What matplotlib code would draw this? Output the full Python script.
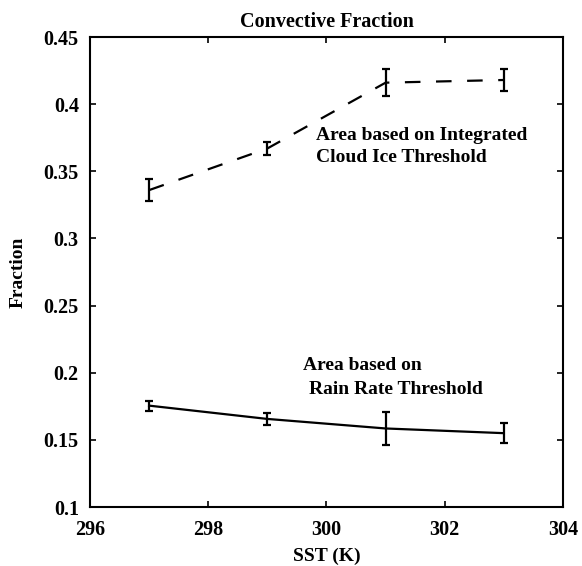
import numpy as np
import matplotlib
matplotlib.use("Agg")
import matplotlib.pyplot as plt

plt.rcParams["font.family"] = ["Liberation Serif", "DejaVu Serif"]
plt.rcParams["font.weight"] = "bold"
plt.rcParams["axes.titleweight"] = "bold"
plt.rcParams["axes.labelweight"] = "bold"

# SST values (K)
sst = [297, 299, 301, 303]

# Convective fraction from integrated cloud ice threshold
ice_frac = [0.336, 0.367, 0.416, 0.418]
ice_err = [0.008, 0.005, 0.010, 0.008]

# Convective fraction from rain rate threshold
rain_frac = [0.1755, 0.1656, 0.1585, 0.1550]
rain_err = [0.0037, 0.0047, 0.012, 0.0073]

xticks = [296, 298, 300, 302, 304]
yticks = [0.1, 0.15, 0.2, 0.25, 0.3, 0.35, 0.4, 0.45]
yticklabels = ["0.1", "0.15", "0.2", "0.25", "0.3", "0.35", "0.4", "0.45"]

fig = plt.figure(figsize=(5.82, 5.66), dpi=100)
ax = fig.add_axes([0.1546, 0.1042, 0.8127, 0.8304])

ax.errorbar(sst, ice_frac, yerr=ice_err, color="black", lw=1.6,
            linestyle=(0, (7, 7)), capsize=3, elinewidth=1.6, capthick=1.6)
ax.errorbar(sst, rain_frac, yerr=rain_err, color="black", lw=1.6,
            linestyle="-", capsize=3, elinewidth=1.6, capthick=1.6)

ax.text(299.82, 0.377, "Area based on Integrated", fontsize=14, va="center")
ax.text(299.82, 0.360, "Cloud Ice Threshold", fontsize=14, va="center")
ax.text(299.6, 0.2055, "Area based on", fontsize=14, va="center")
ax.text(299.7, 0.1875, "Rain Rate Threshold", fontsize=14, va="center")

ax.set_xlim(296, 304)
ax.set_ylim(0.1, 0.45)
ax.set_xticks(xticks)
ax.set_yticks(yticks)
ax.set_yticklabels(yticklabels)
ax.tick_params(direction="in", top=True, right=True, length=4, width=1.2,
               labelsize=14.5)
ax.tick_params(axis="x", pad=9)
ax.tick_params(axis="y", pad=8)
for s in ax.spines.values():
    s.set_linewidth(1.5)

ax.set_title("Convective Fraction", fontsize=14.5, pad=7)
ax.set_xlabel("SST (K)", fontsize=14, labelpad=6)
ax.set_ylabel("Fraction", fontsize=14, labelpad=12)

fig.savefig("out.png", dpi=100)
